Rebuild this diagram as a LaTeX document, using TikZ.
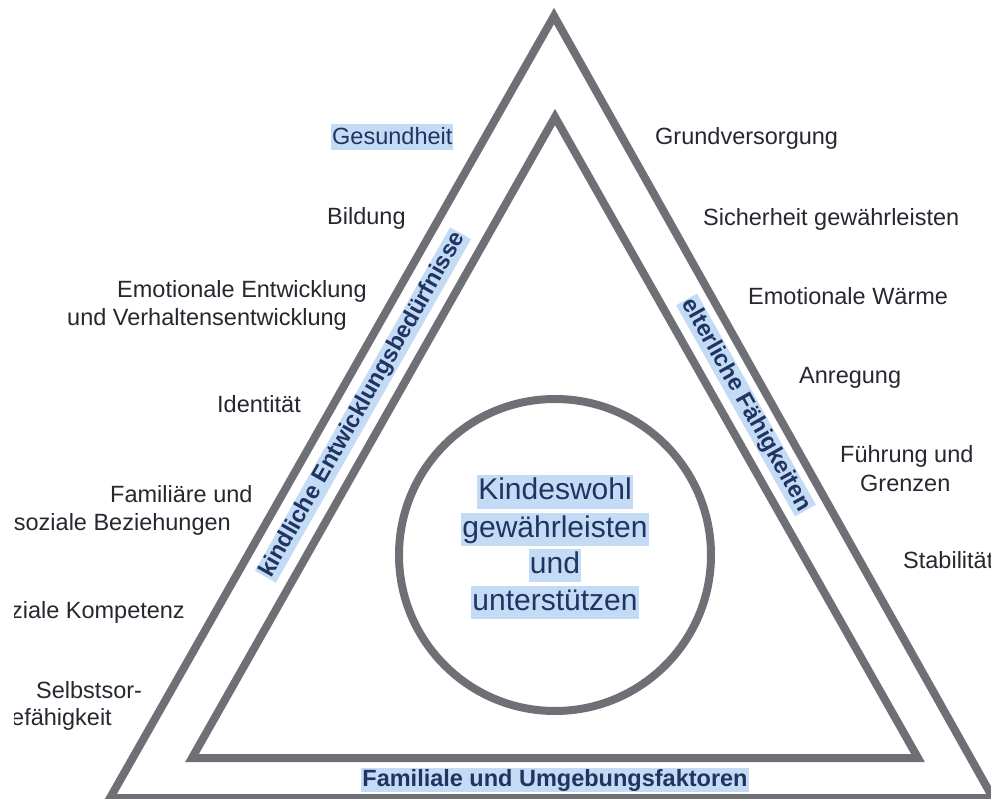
\documentclass[tikz,border=0pt]{standalone}
\usepackage{fontspec}
\setmainfont{Liberation Sans}
\definecolor{tri}{HTML}{6F7075}
\definecolor{hl}{HTML}{C4DBF5}
\definecolor{navy}{HTML}{1F3461}
\definecolor{txt}{HTML}{25282F}
\begin{document}
\begin{tikzpicture}[x=1pt,y=-1pt,
  trline/.style={draw=tri, line width=8pt, line join=miter},
  lbl/.style={font=\fontsize{23.5}{28}\selectfont, text=txt, inner sep=0pt},
  lw/.style={lbl, anchor=base west},
  le/.style={lbl, anchor=base east},
  hlbox/.style={fill=hl, text=navy, inner xsep=1pt, inner ysep=1pt, text height=17pt, text depth=5pt},
  side/.style={font=\bfseries\fontsize{23.5}{28}\selectfont, hlbox},
  mid/.style={font=\fontsize{30}{37}\selectfont, fill=hl, text=navy, inner xsep=1pt, inner ysep=0.5pt, text height=24pt, text depth=8pt, anchor=base}
]
\useasboundingbox (0,0) rectangle (991,799);
\clip (0,0) rectangle (991,799);
\fill[white] (0,0) rectangle (991,799);

% triangles
\coordinate (oA) at (554,16);
\coordinate (oL) at (110,798);
\coordinate (oR) at (993,798);
\coordinate (iA) at (555,117);
\coordinate (iL) at (192,758);
\coordinate (iR) at (918,758);
\draw[trline] (oA) -- (oL) -- (oR) -- cycle;
\draw[trline] (iA) -- (iL) -- (iR) -- cycle;

% circle
\node[draw=tri, line width=8pt, circle, minimum size=312pt, inner sep=0pt] (circ) at (555,555) {};
\node[mid] (m1) at (555,500) {Kindeswohl};
\node[mid] (m2) at (555,537) {gewährleisten};
\node[mid] (m3) at (555,573) {und};
\node[mid] (m4) at (555,610) {unterstützen};

% side labels
\node[side, rotate=60.4] (kind) at (363,405) {kindliche Entwicklungsbedürfnisse};
\node[side, rotate=-60.6] (elt) at (746,405) {elterliche Fähigkeiten};
\node[side] (fam) at (555,780) {Familiale und Umgebungsfaktoren};

% left labels (the reference is cut a little from the left edge)
\begin{scope}
\clip (14,0) rectangle (991,799);
\node[lw, hlbox, text height=20pt, text depth=4pt] (ges) at (331,145) {Gesundheit};
\node[lw] (bild) at (327,225) {Bildung};
\node[lw] (emoA) at (117,298) {Emotionale Entwicklung};
\node[le] (emoB) at (347,326) {und Verhaltensentwicklung};
\node[lw] (ident) at (217,413) {Identität};
\node[lw] (famA) at (110,502) {Familiäre und};
\node[le] (famB) at (231,530) {soziale Beziehungen};
\node[le] (soz) at (185,618) {Soziale Kompetenz};
\node[lw] (selbA) at (36,698) {Selbstsor-};
\node[le] (selbB) at (112,725) {gefähigkeit};
\end{scope}

% right labels
\node[lw] (grund) at (655,145) {Grundversorgung};
\node[lw] (sich) at (703,226) {Sicherheit gewährleisten};
\node[lw] (waerme) at (748,305) {Emotionale Wärme};
\node[lw] (anr) at (799,384) {Anregung};
\node[lw] (fuehA) at (840,463) {Führung und};
\node[lw] (fuehB) at (860,491) {Grenzen};
\node[lw] (stab) at (903,568) {Stabilität};
\end{tikzpicture}
\end{document}
